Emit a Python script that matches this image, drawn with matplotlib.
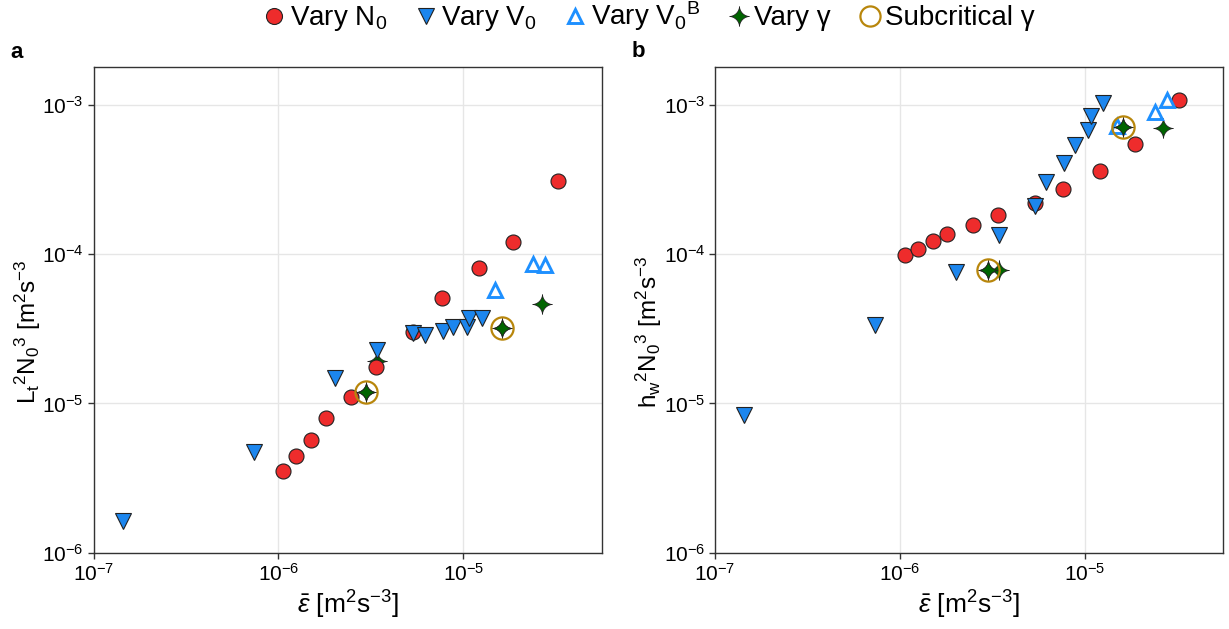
import numpy as np
import matplotlib
matplotlib.use('Agg')
import matplotlib.pyplot as plt
from matplotlib.path import Path
from matplotlib.lines import Line2D
from matplotlib.ticker import LogLocator, NullLocator

plt.rcParams['font.family'] = ['Liberation Sans', 'DejaVu Sans']
plt.rcParams['mathtext.fontset'] = 'custom'
plt.rcParams['mathtext.rm'] = 'Liberation Sans'
plt.rcParams['mathtext.it'] = 'Liberation Sans:italic'
plt.rcParams['mathtext.bf'] = 'Liberation Sans:bold'

# mean dissipation (x) and the two scalings (panel a: Lt, panel b: hw)
x_N0 = [1.06e-6, 1.25e-6, 1.50e-6, 1.80e-6, 2.47e-6, 3.37e-6, 5.36e-6, 7.63e-6, 1.21e-5, 1.86e-5, 3.23e-5]
Lt_N0 = [3.53e-6, 4.46e-6, 5.67e-6, 7.98e-6, 1.11e-5, 1.75e-5, 3.03e-5, 5.13e-5, 8.15e-5, 1.21e-4, 3.09e-4]
hw_N0 = [9.93e-5, 1.09e-4, 1.22e-4, 1.36e-4, 1.56e-4, 1.82e-4, 2.20e-4, 2.72e-4, 3.61e-4, 5.45e-4, 1.08e-3]

x_V0 = [1.44e-7, 7.33e-7, 2.01e-6, 3.43e-6, 5.37e-6, 6.2e-6, 7.74e-6, 8.84e-6, 1.045e-5, 1.075e-5, 1.26e-5]
Lt_V0 = [1.63e-6, 4.74e-6, 1.48e-5, 2.30e-5, 2.95e-5, 2.86e-5, 3.08e-5, 3.25e-5, 3.27e-5, 3.72e-5, 3.76e-5]
hw_V0 = [8.39e-6, 3.36e-5, 7.59e-5, 1.35e-4, 2.11e-4, 3.03e-4, 4.11e-4, 5.40e-4, 6.81e-4, 8.44e-4, 1.03e-3]

x_V0B = [1.49e-5, 2.39e-5, 2.77e-5]
Lt_V0B = [5.73e-5, 8.60e-5, 8.51e-5]
hw_V0B = [7.27e-4, 8.98e-4, 1.08e-3]

x_gam = [2.98e-6, 3.43e-6, 1.61e-5, 2.65e-5]
Lt_gam = [1.19e-5, 1.92e-5, 3.21e-5, 4.61e-5]
hw_gam = [7.87e-5, 7.87e-5, 7.08e-4, 7.02e-4]

x_sub = [2.98e-6, 1.61e-5]
Lt_sub = [1.19e-5, 3.21e-5]
hw_sub = [7.87e-5, 7.08e-4]

RED = '#ee2c2c'
BLUE = '#1c86ee'
LBLUE = '#1e90ff'
GREEN = '#006400'
GOLD = '#b8860b'
EDGE = '#222222'


def star4(n=0.6, k=200):
    t = np.linspace(0, 2 * np.pi, k)
    c, s = np.cos(t), np.sin(t)
    xs = np.sign(c) * np.abs(c) ** (2 / n)
    ys = np.sign(s) * np.abs(s) ** (2 / n)
    return Path(np.column_stack([xs, ys]), closed=True)


STAR = star4()

fig = plt.figure(figsize=(12.29, 6.29), dpi=100)
ax_a = fig.add_axes([0.0761, 0.1213, 0.4135, 0.7717])
ax_b = fig.add_axes([0.5818, 0.1213, 0.4135, 0.7717])


def draw(ax, yN0, yV0, yV0B, ygam, ysub):
    ax.plot(x_gam, ygam, ls='none', marker=STAR, ms=14, mfc=GREEN, mec=EDGE, mew=0.6, zorder=3)
    ax.plot(x_N0, yN0, ls='none', marker='o', ms=10.8, mfc=RED, mec=EDGE, mew=0.8, zorder=4)
    ax.plot(x_V0, yV0, ls='none', marker='v', ms=11.3, mfc=BLUE, mec=EDGE, mew=0.8, zorder=5)
    ax.plot(x_V0B, yV0B, ls='none', marker='^', ms=10, mfc='none', mec=LBLUE, mew=2.1, zorder=6)
    ax.plot(x_sub, ysub, ls='none', marker=STAR, ms=14, mfc=GREEN, mec=EDGE, mew=0.6, zorder=7)
    ax.plot(x_sub, ysub, ls='none', marker='o', ms=16, mfc='none', mec=GOLD, mew=1.6, zorder=8)

    ax.set_xscale('log')
    ax.set_yscale('log')
    ax.set_xlim(1e-7, 5.6e-5)
    ax.set_ylim(1e-6, 1.79e-3)
    ax.xaxis.set_major_locator(LogLocator(base=10))
    ax.yaxis.set_major_locator(LogLocator(base=10))
    ax.xaxis.set_minor_locator(NullLocator())
    ax.yaxis.set_minor_locator(NullLocator())
    ax.grid(True, color='#e6e6e6', lw=1.0, zorder=0)
    ax.set_axisbelow(True)
    for sp in ax.spines.values():
        sp.set_color('#333333')
        sp.set_linewidth(1.0)
    ax.tick_params(direction='out', length=4, width=1, color='#333333', labelsize=15, pad=3)
    ax.set_xlabel(r'$\bar{\epsilon}$ [m$^2$s$^{-3}$]', fontsize=19, labelpad=3)


draw(ax_a, Lt_N0, Lt_V0, Lt_V0B, Lt_gam, Lt_sub)
draw(ax_b, hw_N0, hw_V0, hw_V0B, hw_gam, hw_sub)

ax_a.set_ylabel(r'L$_\mathrm{t}$$^2$N$_0$$^3$ [m$^2$s$^{-3}$', fontsize=17.5)
ax_b.set_ylabel(r'h$_\mathrm{w}$$^2$N$_0$$^3$ [m$^2$s$^{-3}$', fontsize=17.5)
ax_a.yaxis.set_label_coords(-0.10, 0.455)
ax_b.yaxis.set_label_coords(-0.10, 0.455)

fig.text(10 / 1229, 1 - 58 / 629, 'a', fontsize=16, fontweight='bold', va='baseline')
fig.text(632 / 1229, 1 - 57 / 629, 'b', fontsize=16, fontweight='bold', va='baseline')

handles = [
    Line2D([], [], ls='none', marker='o', ms=11.5, mfc=RED, mec=EDGE, mew=0.8),
    Line2D([], [], ls='none', marker='v', ms=11.5, mfc=BLUE, mec=EDGE, mew=0.8),
    Line2D([], [], ls='none', marker='^', ms=10.5, mfc='none', mec=LBLUE, mew=2.1),
    Line2D([], [], ls='none', marker=STAR, ms=14, mfc=GREEN, mec=EDGE, mew=0.6),
    Line2D([], [], ls='none', marker='o', ms=14.5, mfc='none', mec=GOLD, mew=1.6),
]
labels = ['Vary N$_0$', 'Vary V$_0$', r'Vary V$_0$$^\mathrm{B}$', 'Vary γ', 'Subcritical γ']
fig.legend(handles, labels, loc='center', bbox_to_anchor=(0.528, 0.974), ncol=5,
           frameon=False, fontsize=20, handlelength=0.8, handletextpad=0.15,
           columnspacing=1.0, borderpad=0)

fig.savefig('out.png', dpi=100)
